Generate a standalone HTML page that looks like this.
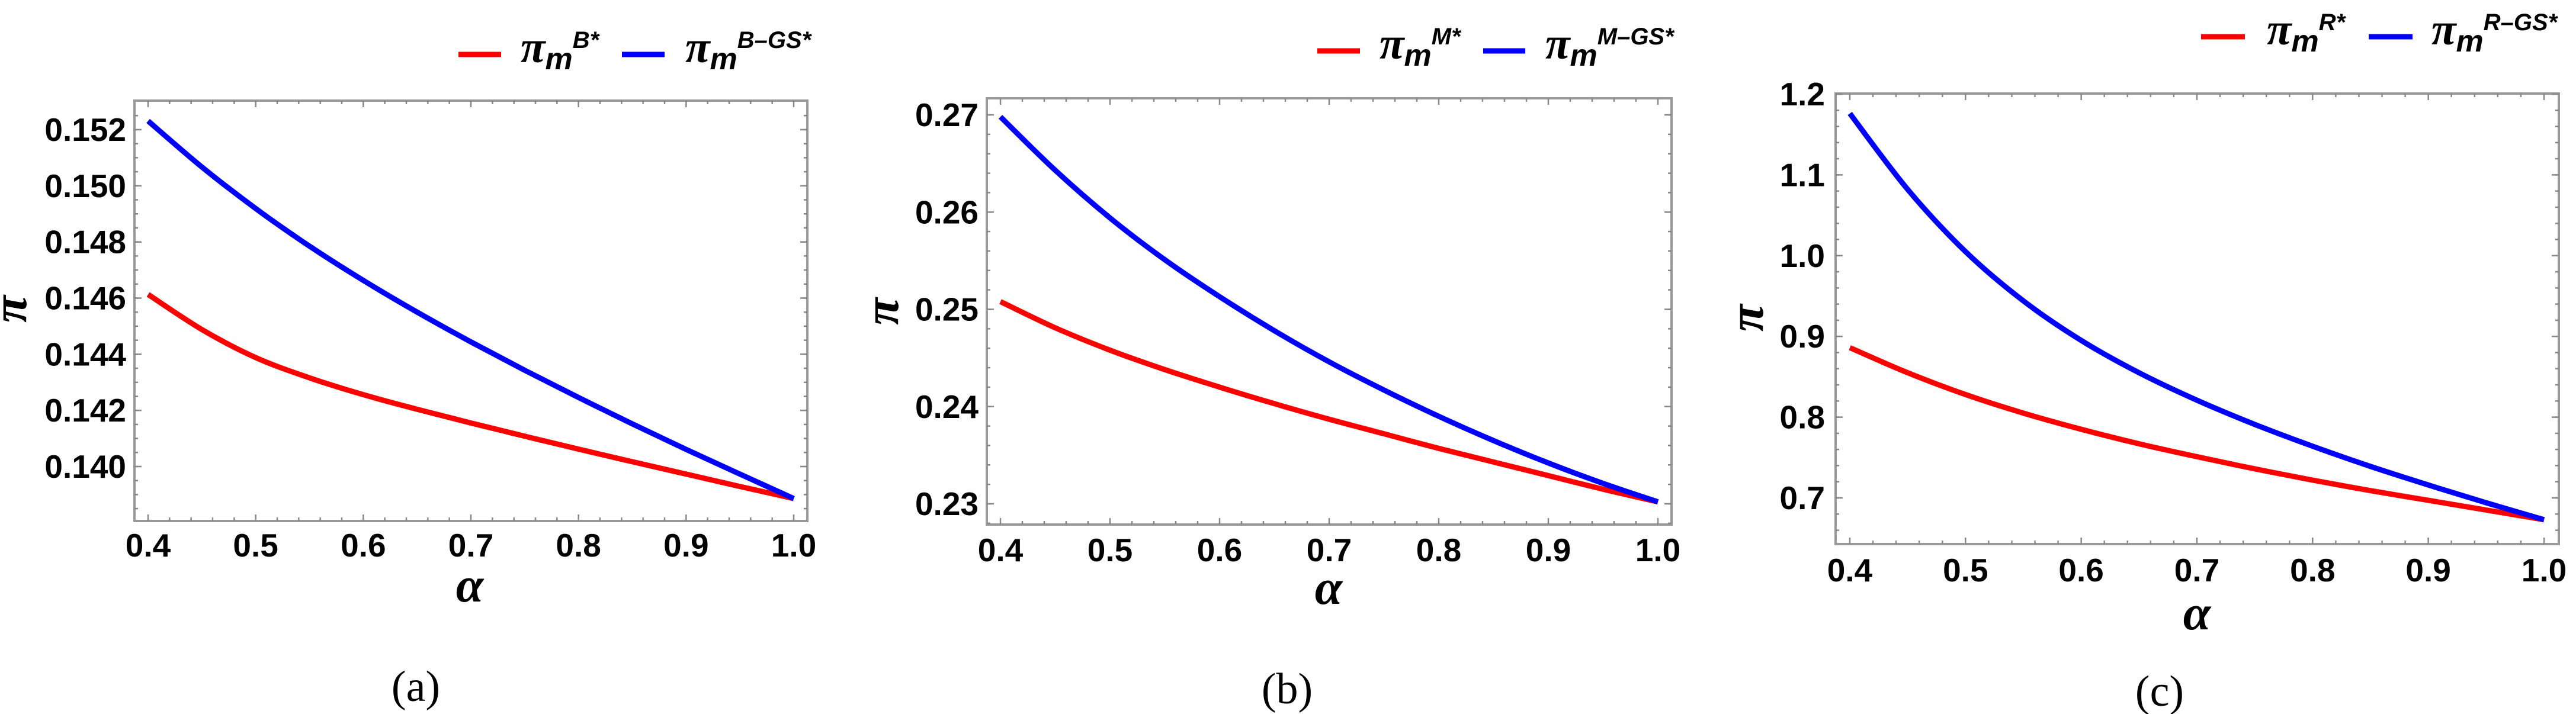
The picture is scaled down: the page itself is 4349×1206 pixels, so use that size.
<!DOCTYPE html>
<html><head><meta charset="utf-8">
<style>
html,body{margin:0;padding:0;background:#fff;}
svg{display:block;}
.tk{font-family:"Liberation Sans",sans-serif;font-weight:bold;font-size:55px;fill:#000;}
.ax{font-family:"Liberation Serif","DejaVu Serif",serif;font-weight:bold;font-style:italic;font-size:84px;fill:#000;}
.lg{font-family:"Liberation Sans",sans-serif;font-weight:bold;font-style:italic;fill:#000;}
.cap{font-family:"Liberation Serif",serif;font-size:74px;fill:#000;}
</style></head>
<body>
<svg id="fig" width="4349" height="1206" viewBox="0 0 4349 1206" xmlns="http://www.w3.org/2000/svg"></svg>
<script>
// ---- data ----
const alphaVals = [0.40,0.45,0.50,0.55,0.60,0.65,0.70,0.75,0.80,0.85,0.90,0.95,1.00];
const aRed  = [0.14613,0.14488,0.14388,0.14316,0.14256,0.14204,0.14155,0.14108,0.14062,0.14017,0.13973,0.13929,0.13886];
const aBlue = [0.15231,0.15067,0.14919,0.14785,0.14663,0.14550,0.14444,0.14343,0.14246,0.14152,0.14061,0.13973,0.13886];
const bRed  = [0.2508,0.2481,0.2458,0.2438,0.2420,0.2403,0.2387,0.2372,0.2357,0.2343,0.2329,0.2315,0.2302];
const bBlue = [0.2698,0.2643,0.2594,0.2551,0.2513,0.2478,0.2446,0.2417,0.2390,0.2365,0.2342,0.2321,0.2302];
const cRed  = [0.886,0.855,0.828,0.805,0.785,0.767,0.751,0.736,0.722,0.709,0.697,0.685,0.673];
const cBlue = [1.176,1.082,1.005,0.944,0.895,0.855,0.821,0.791,0.764,0.739,0.716,0.694,0.673];
const xTicks = [0.4, 0.5, 0.6, 0.7, 0.8, 0.9, 1.0];
const xTickLabels = ["0.4","0.5","0.6","0.7","0.8","0.9","1.0"];
const aYTicks = [0.140, 0.142, 0.144, 0.146, 0.148, 0.150, 0.152];
const aYLabels = ["0.140","0.142","0.144","0.146","0.148","0.150","0.152"];
const bYTicks = [0.23, 0.24, 0.25, 0.26, 0.27];
const bYLabels = ["0.23","0.24","0.25","0.26","0.27"];
const cYTicks = [0.7, 0.8, 0.9, 1.0, 1.1, 1.2];
const cYLabels = ["0.7","0.8","0.9","1.0","1.1","1.2"];

const NS = "http://www.w3.org/2000/svg";
const fig = document.getElementById('fig');
function mk(tag, attrs, parent){const e=document.createElementNS(NS,tag);for(const k in attrs)e.setAttribute(k,attrs[k]);(parent||fig).appendChild(e);return e;}

const panels = [
 {id:'a', frame:{l:227,r:1363,t:170,b:880}, x0:250,x1:1340, yv0:0.140,yp0:788, yv1:0.152,yp1:219,
  yt:aYTicks, yl:aYLabels, ym:0.0005, red:aRed, blue:aBlue, lblR:213, piX:44, piY:522, alX:793, alY:1016, xlY:940,
  lg:{r0:774,r1:846,y:92,p1:879,b0:1050,b1:1122,p2:1157}, sup:['B*','B\u2013GS*'], capX:702, capY:1184},
 {id:'b', frame:{l:1666,r:2822,t:166,b:886}, x0:1689,x1:2799, yv0:0.23,yp0:851, yv1:0.27,yp1:194,
  yt:bYTicks, yl:bYLabels, ym:0.002, red:bRed, blue:bBlue, lblR:1652, piX:1516, piY:526, alX:2243, alY:1020, xlY:948,
  lg:{r0:2224,r1:2296,y:86,p1:2329,b0:2504,b1:2575,p2:2609}, sup:['M*','M\u2013GS*'], capX:2173, capY:1188},
 {id:'c', frame:{l:3099,r:4320,t:158,b:919}, x0:3123,x1:4295, yv0:0.7,yp0:841, yv1:1.2,yp1:159,
  yt:cYTicks, yl:cYLabels, ym:0.02, red:cRed, blue:cBlue, lblR:3081, piX:2976, piY:537, alX:3709, alY:1063, xlY:982,
  lg:{r0:3716,r1:3790,y:62,p1:3827,b0:3999,b1:4073,p2:4105}, sup:['R*','R\u2013GS*'], capX:3646, capY:1192}
];

function smoothPath(pts){
  let d='M'+pts[0][0].toFixed(1)+','+pts[0][1].toFixed(1);
  for(let i=0;i<pts.length-1;i++){
    const p0=pts[i-1]||pts[i], p1=pts[i], p2=pts[i+1], p3=pts[i+2]||p2;
    const c1=[p1[0]+(p2[0]-p0[0])/6, p1[1]+(p2[1]-p0[1])/6];
    const c2=[p2[0]-(p3[0]-p1[0])/6, p2[1]-(p3[1]-p1[1])/6];
    d+=' C'+c1[0].toFixed(1)+','+c1[1].toFixed(1)+' '+c2[0].toFixed(1)+','+c2[1].toFixed(1)+' '+p2[0].toFixed(1)+','+p2[1].toFixed(1);
  }
  return d;
}

panels.forEach(P=>{
  const g = mk('g',{});
  
  
  const X = v => P.x0 + (v-0.4)/(0.6)*(P.x1-P.x0);
  const Y = v => P.yp0 + (v-P.yv0)/(P.yv1-P.yv0)*(P.yp1-P.yp0);
  const F = P.frame;
  const fr = mk('rect',{x:F.l,y:F.t,width:F.r-F.l,height:F.b-F.t,fill:'none',stroke:'#999','stroke-width':4},g);
  
  
  for(let k=0; k<=30; k++){
    const v=0.4+k*0.02;
    const major = (k%5===0);
    const L = major?11:6, x=X(v);
    mk('line',{x1:x,y1:F.b,x2:x,y2:F.b-L,stroke:'#888','stroke-width':2.5},g);
    mk('line',{x1:x,y1:F.t,x2:x,y2:F.t+L,stroke:'#888','stroke-width':2.5},g);
  }
  const lo=P.yt[0]-P.ym*10;
  for(let k=0; k<=P.yt.length*5+25; k++){
    const v=lo+k*P.ym;
    const y=Y(v); if(y<F.t+2||y>F.b-2) continue;
    mk('line',{x1:F.l,y1:y,x2:F.l+6,y2:y,stroke:'#888','stroke-width':2.5},g);
    mk('line',{x1:F.r,y1:y,x2:F.r-6,y2:y,stroke:'#888','stroke-width':2.5},g);
  }
  P.yt.forEach((v,i)=>{
    const y=Y(v);
    mk('line',{x1:F.l,y1:y,x2:F.l+12,y2:y,stroke:'#888','stroke-width':2.5},g);
    mk('line',{x1:F.r,y1:y,x2:F.r-12,y2:y,stroke:'#888','stroke-width':2.5},g);
    const t=mk('text',{x:P.lblR,y:y+19,'text-anchor':'end',class:'tk'},g);
    t.textContent=P.yl[i];
    
    
  });
  xTicks.forEach((v,i)=>{
    const t=mk('text',{x:X(v),y:P.xlY,'text-anchor':'middle',class:'tk'},g);
    t.textContent=xTickLabels[i];
    
    
  });
  [['red',P.red,'#f00'],['blue',P.blue,'#00f']].forEach(s=>{
    const pts=alphaVals.map((a,i)=>[X(a),Y(s[1][i])]);
    const p=mk('path',{d:smoothPath(pts),fill:'none',stroke:s[2],'stroke-width':9},g);
    
    
  });
  const yt=mk('text',{x:P.piX,y:P.piY,'text-anchor':'middle',class:'ax',transform:'rotate(-90 '+P.piX+' '+P.piY+')'},g);
  yt.textContent='\u03c0';
  
  
  const xt=mk('text',{x:P.alX,y:P.alY,'text-anchor':'middle',class:'ax'},g);
  xt.textContent='\u03b1';
  
  
  const L=P.lg;
  [[L.r0,L.r1,L.p1,'#f00',P.sup[0]],[L.b0,L.b1,L.p2,'#00f',P.sup[1]]].forEach((e,k)=>{
    const lg=mk('g',{},g);
    
    
    mk('line',{x1:e[0],y1:L.y,x2:e[1],y2:L.y,stroke:e[3],'stroke-width':9},lg);
    const t=mk('text',{x:e[2],y:L.y+13,class:'lg'},lg);
    const s1=mk('tspan',{'font-size':76,'font-family':'Liberation Serif, serif'},t); s1.textContent='\u03c0';
    const s2=mk('tspan',{'font-size':52,dy:12},t); s2.textContent='m';
    const s3=mk('tspan',{'font-size':40,dy:-36},t); s3.textContent=e[4];
  });
  const c=mk('text',{x:P.capX,y:P.capY,'text-anchor':'middle',class:'cap'},g);
  c.textContent='('+P.id+')';
  
  
});
</script>
</body></html>
